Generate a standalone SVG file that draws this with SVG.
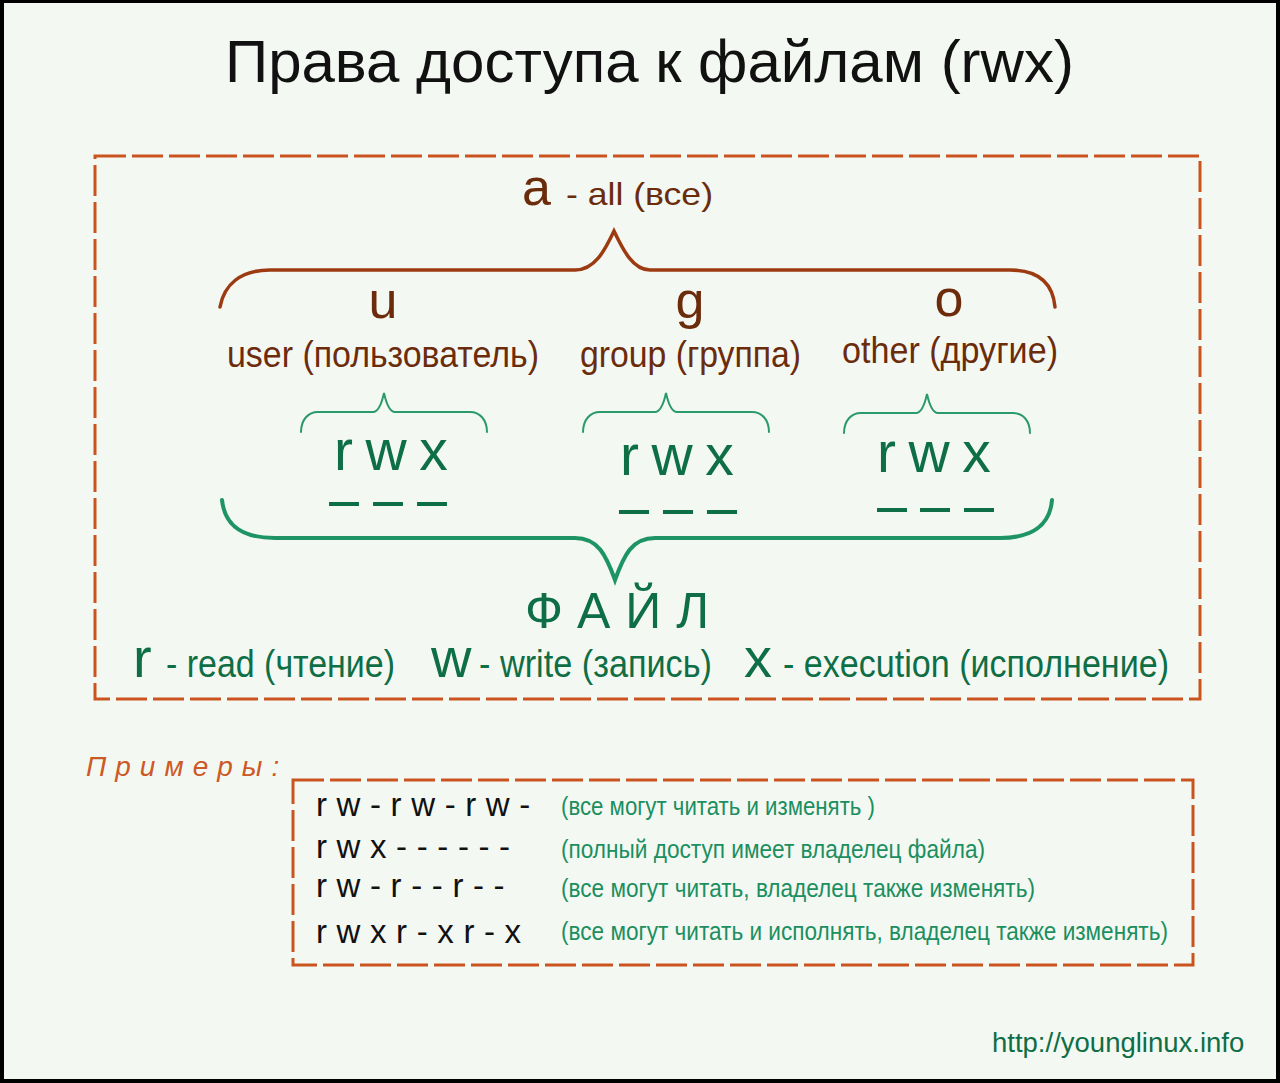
<svg xmlns="http://www.w3.org/2000/svg" width="1280" height="1083" viewBox="0 0 1280 1083">
<style>
text{font-family:"Liberation Sans",Arial,sans-serif}
.title{font-size:60px;fill:#111}
.brown{fill:#6b2c0c}
.big{font-size:52px}
.sub{font-size:36px}
.g{fill:#0e6e45}
.rwx{font-size:57px;letter-spacing:12.5px}
.leg{font-size:38px}
.ex{font-size:33px;letter-spacing:9.6px;fill:#111}
.desc{font-size:25px;fill:#1b8f5f}
.box{fill:none;stroke:#c9541f;stroke-width:3;stroke-dasharray:31 6}
.bb{fill:none;stroke:#9c3b12;stroke-width:3.5;stroke-linecap:round}
.gb{fill:none;stroke:#1e9464;stroke-width:4;stroke-linecap:round}
.sb{fill:none;stroke:#2a9a6a;stroke-width:2;stroke-linecap:round}
.ul{stroke:#0e6e45;stroke-width:4}
</style>
<rect x="0" y="0" width="1280" height="1083" fill="#f4f8f2"/>
<rect x="2" y="1" width="1276" height="1080" fill="none" stroke="#000" stroke-width="4"/>
<g id="title"><text class="title" x="225" y="82">Права доступа к файлам (rwx)</text></g>
<g id="main-box"><rect class="box" x="95" y="156" width="1105" height="543"/></g>
<g id="all"><text class="brown big" x="522" y="205">a</text><text class="brown" x="566" y="205" font-size="32" textLength="147" lengthAdjust="spacingAndGlyphs">- all (все)</text></g>
<g id="user"><text class="brown big" x="383" y="318" text-anchor="middle">u</text><text class="brown sub" x="227" y="367" textLength="312" lengthAdjust="spacingAndGlyphs">user (пользователь)</text></g>
<g id="group"><text class="brown big" x="690" y="318" text-anchor="middle">g</text><text class="brown sub" x="580" y="367" textLength="221" lengthAdjust="spacingAndGlyphs">group (группа)</text></g>
<g id="other"><text class="brown big" x="949" y="316" text-anchor="middle">o</text><text class="brown sub" x="842" y="363" textLength="216" lengthAdjust="spacingAndGlyphs">other (другие)</text></g>
<g id="perm-user"><text class="g rwx" x="334" y="470">rwx</text></g>
<g id="perm-group"><text class="g rwx" x="620" y="475">rwx</text></g>
<g id="perm-other"><text class="g rwx" x="877" y="472">rwx</text></g>
<g id="file"><text class="g" x="525" y="628" font-size="50" letter-spacing="15">ФАЙЛ</text></g>
<g id="legend">
<text class="g" x="133" y="677" font-size="56">r</text>
<text class="g leg" x="166" y="677" textLength="229" lengthAdjust="spacingAndGlyphs">- read (чтение)</text>
<text class="g" x="431" y="677" font-size="56">w</text>
<text class="g leg" x="479" y="677" textLength="233" lengthAdjust="spacingAndGlyphs">- write (запись)</text>
<text class="g" x="744" y="677" font-size="56">x</text>
<text class="g leg" x="783" y="677" textLength="386" lengthAdjust="spacingAndGlyphs">- execution (исполнение)</text>
</g>
<g id="examples-label"><text x="86" y="776" font-size="28" font-style="italic" fill="#cc5a26" letter-spacing="9">Примеры:</text></g>
<g id="examples-box"><rect class="box" x="293" y="780" width="900" height="185"/>
<text class="ex" x="316" y="816">rw-rw-rw-</text>
<text class="ex" x="316" y="858">rwx------</text>
<text class="ex" x="316" y="897">rw-r--r--</text>
<text class="ex" x="316" y="943">rwxr-xr-x</text>
<text class="desc" x="561" y="815" textLength="314" lengthAdjust="spacingAndGlyphs">(все могут читать и изменять )</text>
<text class="desc" x="561" y="858" textLength="424" lengthAdjust="spacingAndGlyphs">(полный доступ имеет владелец файла)</text>
<text class="desc" x="561" y="897" textLength="474" lengthAdjust="spacingAndGlyphs">(все могут читать, владелец также изменять)</text>
<text class="desc" x="561" y="940" textLength="607" lengthAdjust="spacingAndGlyphs">(все могут читать и исполнять, владелец также изменять)</text>
</g>
<g id="url"><text class="g" x="992" y="1052" font-size="27.5">http://younglinux.info</text></g>
<g id="connectors">
<path class="bb" d="M220,307 C224,285 240,270 270,270 L575,270 C595,270 605,250 614,231 C623,250 633,270 650,270 L1010,270 C1040,270 1053,285 1055,307"/>
<path id="sb1" class="sb" d="M301,432 C301,420 308,412 318,412 L373,412 C379,412 382,402 384,393 C386,402 389,412 395,412 L470,412 C480,412 487,420 487,432"/>
<use href="#sb1" transform="translate(282,0)"/>
<use href="#sb1" transform="translate(543,1)"/>
<path class="gb" d="M222,500 C225,528 245,538 275,538 L575,538 C598,538 606,555 615,580 C624,555 632,538 655,538 L1000,538 C1032,538 1050,525 1052,500"/>
<path class="ul" d="M329,504 h30 M373,504 h30 M417,504 h30 M619,512 h30 M663,512 h30 M707,512 h30 M877,510 h30 M920,510 h30 M964,510 h30"/>
</g>
</svg>
